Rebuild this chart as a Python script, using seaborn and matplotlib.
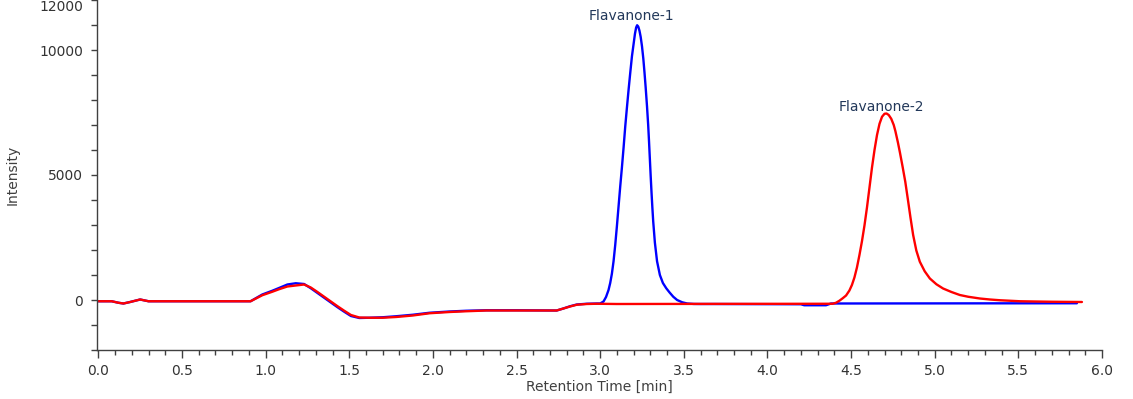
import numpy as np
import pandas as pd
import matplotlib
matplotlib.use("Agg")
import matplotlib.pyplot as plt
import seaborn as sns
from matplotlib.ticker import MultipleLocator, FixedLocator

# shared start of both chromatograms (time in min, intensity)
early_time = [0.00, 0.08, 0.12, 0.15, 0.19, 0.25, 0.30, 0.91, 0.98, 1.04, 1.08, 1.13,
              1.18, 1.23, 1.27, 1.31, 1.35, 1.39, 1.43, 1.47, 1.51, 1.56, 1.62, 1.70,
              1.78, 1.88, 1.98, 2.10, 2.20, 2.32, 2.50, 2.74, 2.78, 2.82, 2.86, 2.92, 2.98]
early_red = [-50, -50, -110, -140, -80, 20, -50, -50, 190, 330, 430, 540,
             580, 620, 500, 320, 130, -60, -250, -430, -600, -700, -710, -710,
             -680, -620, -530, -480, -450, -420, -420, -420, -340, -260, -190, -160, -150]
early_blue = [-50, -50, -110, -140, -80, 20, -50, -50, 220, 370, 480, 620,
              670, 640, 470, 280, 90, -100, -290, -470, -640, -720, -710, -690,
              -650, -590, -510, -460, -430, -410, -410, -420, -340, -250, -180, -150, -140]

# blue run: Flavanone-1 peak
blue_time = [3.000, 3.020, 3.035, 3.050, 3.060, 3.070, 3.080, 3.090, 3.100, 3.110,
             3.120, 3.130, 3.140, 3.150, 3.160, 3.170, 3.180, 3.190, 3.200, 3.208,
             3.215, 3.221, 3.228, 3.235, 3.242, 3.250, 3.258, 3.265, 3.272, 3.280,
             3.287, 3.292, 3.297, 3.302, 3.307, 3.312, 3.317, 3.327, 3.340, 3.357,
             3.375, 3.395, 3.415, 3.437, 3.460, 3.490, 3.520, 3.560, 3.600, 3.680,
             4.200, 4.220, 4.350, 4.380, 5.850]
blue_int = [-140, -60, 120, 400, 680, 1050, 1550, 2200, 2950, 3750,
            4550, 5300, 6100, 6950, 7700, 8420, 9100, 9750, 10250, 10650,
            10900, 10990, 10930, 10770, 10530, 10150, 9650, 9100, 8500, 7750,
            7000, 6350, 5650, 4950, 4300, 3700, 3150, 2300, 1550, 1000,
            680, 470, 300, 130, 0, -90, -140, -158, -160, -160,
            -170, -210, -210, -140, -130]

# red run: Flavanone-2 peak
red_time = [3.100, 4.390, 4.410, 4.430, 4.450, 4.470, 4.490, 4.505, 4.520, 4.535,
            4.550, 4.565, 4.580, 4.595, 4.610, 4.625, 4.640, 4.655, 4.670, 4.685,
            4.700, 4.712, 4.725, 4.740, 4.755, 4.765, 4.780, 4.792, 4.808, 4.824,
            4.840, 4.855, 4.871, 4.890, 4.911, 4.940, 4.971, 5.010, 5.050, 5.100,
            5.150, 5.200, 5.270, 5.330, 5.390, 5.450, 5.510, 5.600, 5.700, 5.880]
red_int = [-160, -150, -110, -30, 70, 180, 380, 600, 900, 1300,
           1800, 2350, 2980, 3700, 4500, 5300, 6000, 6600, 7050, 7330,
           7450, 7460, 7400, 7250, 7000, 6750, 6300, 5900, 5330, 4730,
           4000, 3300, 2600, 1980, 1530, 1150, 860, 630, 460, 320,
           200, 130, 60, 20, -10, -30, -50, -60, -70, -80]

peak_names = ["Flavanone-1", "Flavanone-2"]
peak_label_x = [3.188, 4.679]
peak_label_y = [11180, 7550]

blue = pd.DataFrame({"time": early_time + blue_time, "intensity": early_blue + blue_int})
red = pd.DataFrame({"time": early_time + red_time, "intensity": early_red + red_int})

sns.set_style("white")
plt.rcParams["font.family"] = ["DejaVu Sans"]

fig = plt.figure(figsize=(11.33, 3.99), dpi=100)
ax = fig.add_axes([97 / 1133, 49 / 399, 1005 / 1133, 350 / 399])

sns.lineplot(data=blue, x="time", y="intensity", color="#0000ff", lw=1.7,
             estimator=None, sort=False, ax=ax)
sns.lineplot(data=red, x="time", y="intensity", color="#ff0000", lw=1.7,
             estimator=None, sort=False, ax=ax)

for name, px, py in zip(peak_names, peak_label_x, peak_label_y):
    ax.text(px, py, name, ha="center", va="baseline", fontsize=10, color="#22385a")

ax.set_xlim(-0.008, 6.0)
ax.set_ylim(-2000, 12000)
ax.set_xlabel("")
ax.set_ylabel("")

sns.despine(ax=ax)
for side in ["left", "bottom"]:
    ax.spines[side].set_color("#404040")
    ax.spines[side].set_linewidth(1.0)

ax.xaxis.set_major_locator(MultipleLocator(0.5))
ax.xaxis.set_minor_locator(MultipleLocator(0.1))
ax.xaxis.set_major_formatter(lambda v, p: f"{v:.1f}")
ax.yaxis.set_major_locator(FixedLocator([0, 5000, 10000, 12000]))
ax.yaxis.set_minor_locator(MultipleLocator(1000))

ax.tick_params(axis="x", which="major", direction="out", length=6, width=1,
               color="#404040", labelsize=10, labelcolor="#333333", pad=4, bottom=True)
ax.tick_params(axis="x", which="minor", direction="out", length=3.5, width=1,
               color="#404040", bottom=True)
ax.tick_params(axis="y", which="both", direction="out", length=4, width=1,
               color="#404040", labelsize=10, labelcolor="#333333", pad=6, left=True)

fig.canvas.draw()
xl = ax.get_xticklabels()
xl[0].set_ha("left")
xl[-1].set_ha("right")
yl = ax.get_yticklabels()
yl[-1].set_va("top")

fig.text(13 / 1133, 1 - 175 / 399, "Intensity", rotation=90, ha="center", va="center",
         fontsize=10, color="#404040")
fig.text(599 / 1133, 1 - 387 / 399, "Retention Time [min]", ha="center", va="center",
         fontsize=10, color="#404040")

fig.savefig("out.png", dpi=100)
